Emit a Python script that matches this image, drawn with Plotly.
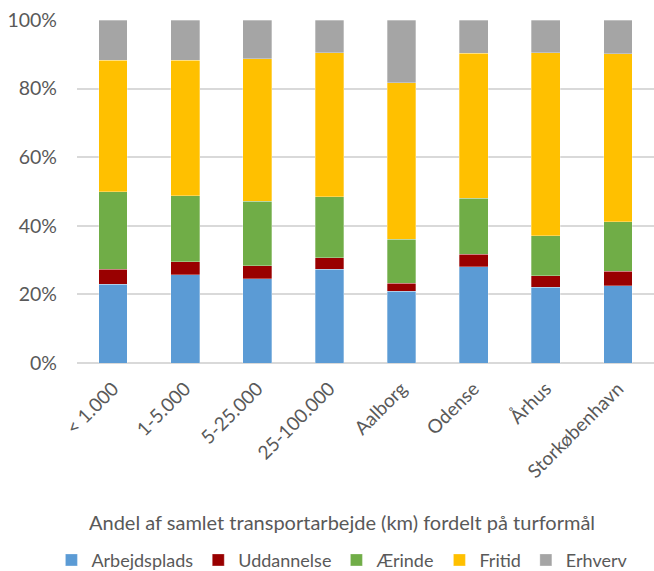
import plotly.graph_objects as go

categories = ["< 1.000", "1-5.000", "5-25.000", "25-100.000", "Aalborg", "Odense", "Århus", "Storkøbenhavn"]
arbejdsplads = [22.9, 25.7, 24.6, 27.3, 20.9, 28.0, 22.1, 22.5]
uddannelse = [4.5, 3.8, 3.7, 3.4, 2.3, 3.7, 3.3, 4.2]
aerinde = [22.6, 19.3, 18.9, 17.8, 12.9, 16.3, 11.7, 14.5]
fritid = [38.3, 39.4, 41.5, 42.0, 45.6, 42.3, 53.4, 48.9]
erhverv = [11.7, 11.8, 11.3, 9.5, 18.3, 9.7, 9.5, 9.9]

series = [
    ("Arbejdsplads", arbejdsplads, "#5B9BD5"),
    ("Uddannelse", uddannelse, "#990000"),
    ("Ærinde", aerinde, "#70AD47"),
    ("Fritid", fritid, "#FFC000"),
    ("Erhverv", erhverv, "#A5A5A5"),
]

font_family = "Lato, Open Sans, sans-serif"
gray_text = "#595959"

fig = go.Figure()
for name, vals, color in series:
    fig.add_trace(go.Bar(
        x=categories, y=vals, name=name,
        marker=dict(color=color, line=dict(color="rgba(255,255,255,0.6)", width=0.5)),
    ))

fig.update_layout(
    barmode="stack",
    barnorm="percent",
    bargap=0.6,
    width=654, height=571,
    margin=dict(l=77, r=0, t=20, b=208, autoexpand=False),
    plot_bgcolor="white",
    paper_bgcolor="white",
    font=dict(family=font_family, size=19, color=gray_text),
    xaxis=dict(
        tickangle=-45,
        tickfont=dict(size=19, color=gray_text),
        showgrid=False,
        showline=False,
        ticks="",
        ticklabelstandoff=10,
    ),
    yaxis=dict(
        range=[0, 100],
        tickvals=[0, 20, 40, 60, 80, 100],
        ticktext=["0%", "20%", "40%", "60%", "80%", "100%"],
        tickfont=dict(size=19.5, color=gray_text),
        showgrid=True,
        gridcolor="#D9D9D9",
        gridwidth=1.5,
        zeroline=True,
        zerolinecolor="#D9D9D9",
        zerolinewidth=1.5,
        ticks="",
        ticklabelstandoff=19,
    ),
    legend=dict(
        orientation="h",
        x=0.46, xanchor="center",
        y=-0.575, yanchor="middle",
        font=dict(size=18, color=gray_text),
        traceorder="normal",
        itemwidth=30,
    ),
    showlegend=True,
)

fig.add_annotation(
    text="Andel af samlet transportarbejde (km) fordelt på turformål",
    xref="paper", yref="paper",
    x=0.459, y=-0.463, xanchor="center", yanchor="middle",
    showarrow=False,
    font=dict(size=20, color=gray_text),
)

fig.write_html(
    "out.html",
    config={"displayModeBar": False},
    post_script="document.body.style.margin='0';document.body.style.padding='0';",
)
